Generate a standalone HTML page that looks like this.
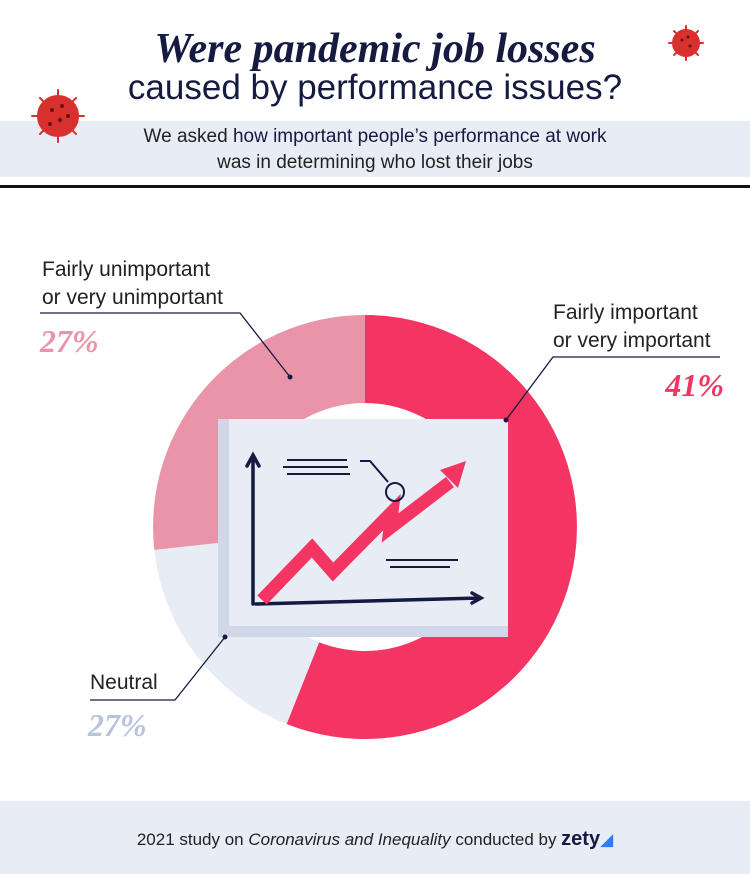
<!DOCTYPE html><html><head><style>
body{margin:0;width:750px;height:874px;background:#fff;position:relative;overflow:hidden;font-family:"Liberation Sans",sans-serif;color:#111a3a}
.a{position:absolute;white-space:nowrap}
</style></head><body>
<div class="a" style="left:0;top:121px;width:750px;height:56px;background:#e8ecf5"></div>
<div class="a" style="left:0;top:185px;width:750px;height:3px;background:#111"></div>
<div class="a" style="left:0;top:801px;width:750px;height:73px;background:#e8ecf5"></div>
<div class="a" style="left:0;width:750px;top:25px;text-align:center;font:italic bold 42px 'Liberation Serif',serif;color:#141a40">Were pandemic job losses</div>
<div class="a" style="left:0;width:750px;top:68px;text-align:center;font-size:35px;color:#141a40">caused by performance issues?</div>
<div class="a" style="left:0;width:750px;top:124px;text-align:center;font-size:19px;line-height:26px;color:#222">We asked <span style="color:#141a40">how important people’s performance at work</span><br>was in determining who lost their jobs</div>
<div class="a" style="left:0;width:750px;top:828px;text-align:center;font-size:17px;color:#222">2021 study on <i>Coronavirus and Inequality</i> conducted by <b style="font-size:20px;color:#141a40">zety</b><span style="color:#2f7cf0">&#9698;</span></div>
<svg class="a" style="left:0;top:0" width="750" height="874">
<g fill="#d8302e" stroke="#d8302e" stroke-width="2">
<circle cx="58" cy="116" r="20"/><circle cx="686" cy="43" r="13"/>
<g stroke-linecap="round">
<path d="M58 90v6M58 136v6M32 116h6M78 116h6M40 98l4 4M72 130l4 4M40 134l4-4M72 102l4-4" />
<path d="M686 26v4M686 56v4M669 43h4M699 43h4M674 31l3 3M695 52l3 3M674 55l3-3M695 34l3-3"/></g></g>
<g fill="#6a1010"><circle cx="52" cy="110" r="2"/><circle cx="62" cy="106" r="2"/><circle cx="60" cy="120" r="2"/><circle cx="50" cy="124" r="2"/><circle cx="68" cy="116" r="2"/><circle cx="682" cy="40" r="1.5"/><circle cx="690" cy="46" r="1.5"/><circle cx="688" cy="37" r="1.5"/></g>
<path d="M365,315 A212,212 0 1 1 286.6,724 L319.1,642.2 A124,124 0 1 0 365,403 Z" fill="#f43563"/>
<path d="M286.6,724 A212,212 0 0 1 154.3,549.9 L241.7,540.4 A124,124 0 0 0 319.1,642.2 Z" fill="#e8ecf5"/>
<path d="M154.3,549.9 A212,212 0 0 1 365,315 L365,403 A124,124 0 0 0 241.7,540.4 Z" fill="#e994a8"/>
<rect x="218" y="419" width="290" height="218" fill="#cfd7e8"/>
<rect x="229" y="419" width="279" height="207" fill="#e8ecf5"/>
<path d="M253 455V604M247 466l6-11 6 11M256 604L480 598M472 593l9 5-9 5" stroke="#141a40" stroke-width="3.5" fill="none" stroke-linecap="round"/>
<polyline points="262,600 312,548 333,572 392,512 390,528 450,482" fill="none" stroke="#f43563" stroke-width="13" stroke-linejoin="miter"/>
<polygon points="466,461 458,488 440,470" fill="#f43563"/>
<path d="M287 460h60M283 467h65M287 474h63M386 560h72M390 567h60M360 461h10l18 21" stroke="#141a40" stroke-width="2" fill="none"/>
<circle cx="395" cy="492" r="9" fill="none" stroke="#141a40" stroke-width="2"/>
<g stroke="#141a40" stroke-width="1.3" fill="none"><path d="M40 313H240L290 377"/><path d="M720 357H553L506 420"/><path d="M90 700H175L225 637"/></g>
<g fill="#141a40"><circle cx="290" cy="377" r="2.5"/><circle cx="506" cy="420" r="2.5"/><circle cx="225" cy="637" r="2.5"/></g>
</svg>
<div class="a" style="left:42px;top:256px;font-size:21px;line-height:28px;color:#222">Fairly unimportant<br>or very unimportant</div>
<div class="a" style="left:40px;top:323px;font:italic bold 32px 'Liberation Serif',serif;color:#e994a8">27%</div>
<div class="a" style="left:553px;top:299px;font-size:21px;line-height:28px;color:#222">Fairly important<br>or very important</div>
<div class="a" style="left:650px;top:367px;width:74px;text-align:right;font:italic bold 32px 'Liberation Serif',serif;color:#f43563">41%</div>
<div class="a" style="left:90px;top:671px;font-size:21px;color:#222">Neutral</div>
<div class="a" style="left:88px;top:707px;font:italic bold 32px 'Liberation Serif',serif;color:#b9c3dc">27%</div>
</body></html>
